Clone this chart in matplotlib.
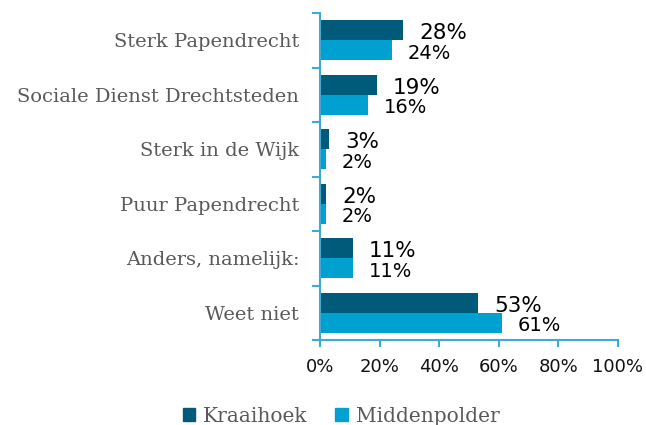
import numpy as np
import matplotlib.pyplot as plt
from matplotlib.patches import Patch

categories = ["Sterk Papendrecht", "Sociale Dienst Drechtsteden", "Sterk in de Wijk",
              "Puur Papendrecht", "Anders, namelijk:", "Weet niet"]
kraaihoek = [28, 19, 3, 2, 11, 53]
middenpolder = [24, 16, 2, 2, 11, 61]
xticks = [0, 20, 40, 60, 80, 100]

DARK = "#005A7A"
LIGHT = "#00A0D1"
AXIS = "#3FA9D8"
GREY = "#595959"

fig = plt.figure(figsize=(6.46, 4.25), dpi=100)
ax = fig.add_axes([320 / 646, 1 - 340 / 425, 298 / 646, 327 / 425])

n = len(categories)
y = np.arange(n)
h = 0.37
ax.barh(y - h / 2, kraaihoek, height=h, color=DARK)
ax.barh(y + h / 2, middenpolder, height=h, color=LIGHT)

# value labels, right of each bar
for i in range(n):
    ax.annotate(f"{kraaihoek[i]}%", (kraaihoek[i], y[i] - h / 2), xytext=(16, -3),
                textcoords="offset pixels", va="center", ha="left",
                fontsize=15.5, color="black")
    ax.annotate(f"{middenpolder[i]}%", (middenpolder[i], y[i] + h / 2), xytext=(16, -3),
                textcoords="offset pixels", va="center", ha="left",
                fontsize=14, color="black")

ax.set_ylim(n - 0.5, -0.5)
ax.set_xlim(0, 100)
ax.set_xticks(xticks)
ax.set_xticklabels([f"{t}%" for t in xticks], fontsize=13, color="#111111")

# category labels, ticks sit on the band edges
ax.set_yticks(np.arange(n + 1) - 0.5)
ax.set_yticklabels([])
ax.set_yticks(y, minor=True)
ax.set_yticklabels(categories, minor=True, family="DejaVu Serif", fontsize=14, color=GREY)
ax.tick_params(axis="y", which="minor", length=0, pad=15)
ax.tick_params(axis="y", which="major", length=6, color=AXIS, width=1.5)
ax.tick_params(axis="x", length=5, color=AXIS, width=1.5, pad=8)

for s in ["top", "right"]:
    ax.spines[s].set_visible(False)
for s in ["left", "bottom"]:
    ax.spines[s].set_color(AXIS)
    ax.spines[s].set_linewidth(1.5)

handles = [Patch(color=DARK, label="Kraaihoek"), Patch(color=LIGHT, label="Middenpolder")]
fig.legend(handles=handles, loc="center", bbox_to_anchor=(341 / 646, 1 - 416 / 425), ncol=2,
           frameon=False, handlelength=0.6, handleheight=0.6, handletextpad=0.4,
           columnspacing=1.4, prop={"family": "DejaVu Serif", "size": 14.5},
           labelcolor=GREY)

fig.savefig("out.png", dpi=100)
